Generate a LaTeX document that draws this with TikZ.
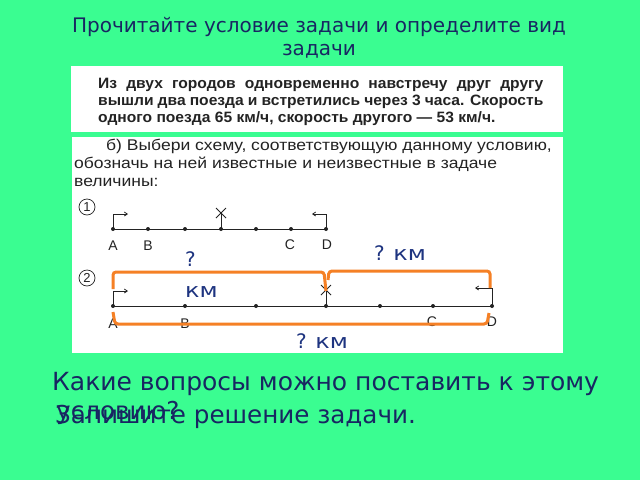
\documentclass[tikz,border=0pt]{standalone}
\usepackage{fontspec}
\setmainfont{DejaVu Sans}
\newfontfamily\scanfont{Liberation Sans}
\usetikzlibrary{arrows.meta,calc}
\definecolor{bg}{RGB}{58,253,145}
\definecolor{navy}{RGB}{24,38,98}
\definecolor{lbl}{RGB}{30,52,128}
\definecolor{org}{RGB}{245,128,37}
\definecolor{ink}{RGB}{35,35,35}
\newcommand{\km}{\scalebox{1.2}[1]{км}}
\newcommand{\wideb}[1]{\scalebox{1.04}[1]{#1}}
\newcommand{\justb}[1]{\scalebox{1.04}[1]{\makebox[428pt][s]{#1}}}
\newcommand{\wider}[1]{\scalebox{1.13}[1]{#1}}
\begin{document}
\begin{tikzpicture}[x=1pt,y=-1pt,
  title/.style={inner sep=0pt,text=navy,font=\fontsize{20}{24}\selectfont,anchor=base},
  bottomtxt/.style={inner sep=0pt,text=navy,font=\fontsize{24.6}{29}\selectfont,anchor=base west},
  scanb/.style={inner sep=0pt,text=ink,font=\scanfont\bfseries\fontsize{15}{17}\selectfont,anchor=base west},
  scanr/.style={inner sep=0pt,text=ink,font=\scanfont\fontsize{15.5}{17}\selectfont,anchor=base west},
  pt/.style={inner sep=0pt,text=ink,font=\scanfont\fontsize{14}{16}\selectfont,anchor=base},
  lbltxt/.style={inner sep=0pt,text=lbl,font=\fontsize{20}{31}\selectfont,anchor=base west},
  schemeline/.style={draw=ink,line width=0.9pt},
  tick/.style={draw=ink,line width=0.8pt,-{Straight Barb[length=3pt,width=4pt]}},
  bracket/.style={draw=org,line width=3pt,rounded corners=3pt},
  numcircle/.style={draw=ink,circle,line width=0.7pt,minimum size=16pt,inner sep=0pt,text=ink,font=\scanfont\fontsize{13}{13}\selectfont}
]
\fill[bg] (0,0) rectangle (640,480);
\useasboundingbox (0,0) rectangle (640,480);
\fill[white] (71,66) rectangle (563,132);
\fill[white] (72,137) rectangle (563,353);

% title
\node[title] (t1) at (319,32) {Прочитайте условие задачи и определите вид};
\node[title] (t2) at (319,55) {задачи};

% scanned task text
\node[scanb] (p1) at (98,88) {\justb{Из двух городов одновременно навстречу друг другу}};
\node[scanb] (p2) at (98,105) {\justb{вышли два поезда и встретились через 3 часа. Скорость}};
\node[scanb] (p3) at (98,122) {\wideb{одного поезда 65 км/ч, скорость другого — 53 км/ч.}};

\node[scanr] (q1) at (106,150) {\wider{б) Выбери схему, соответствующую данному условию,}};
\node[scanr] (q2) at (74,168) {\wider{обозначь на ней известные и неизвестные в задаче}};
\node[scanr] (q3) at (74,186) {\wider{величины:}};

% scheme 1
\node[numcircle] (n1) at (87,207) {1};
\foreach \n/\x in {a/113,b/148,p/185,m/221,q/256,c/291,d/326}
  \coordinate (s1\n) at (\x,229);
\draw[schemeline] (s1a) -- (s1d);
\foreach \n in {a,b,p,m,q,c,d} \fill[ink] (s1\n) circle (2);
\draw[tick] (s1a) -- ++(0,-15) -- ++(15,0);
\draw[tick] (s1d) -- ++(0,-15) -- ++(-14,0);
\coordinate (x1) at (221,213);
\draw[schemeline] (s1m) -- (x1);
\draw[schemeline] ($(x1)+(-5,-5)$) -- ($(x1)+(5,5)$) ($(x1)+(-5,5)$) -- ($(x1)+(5,-5)$);
\node[pt] (l1a) at (113,250) {A};
\node[pt] (l1b) at (148,250) {B};
\node[pt] (l1c) at (290,249) {C};
\node[pt] (l1d) at (327,249) {D};

% scheme 2
\node[numcircle] (n2) at (87,278) {2};
\foreach \n/\x in {a/113,b/185,p/256,m/326,q/380,c/433,d/492}
  \coordinate (s2\n) at (\x,306);
\draw[schemeline] (s2a) -- (s2d);
\foreach \n in {a,b,p,m,q,c,d} \fill[ink] (s2\n) circle (2);
\draw[tick] (s2a) -- ++(0,-15) -- ++(15,0);
\draw[tick] (s2d) -- ++(0,-18) -- ++(-17,0);
\coordinate (x2) at (326,290);
\draw[schemeline] (s2m) -- (x2);
\draw[schemeline] ($(x2)+(-5,-5)$) -- ($(x2)+(5,5)$) ($(x2)+(-5,5)$) -- ($(x2)+(5,-5)$);
\node[pt] (l2a) at (113,328) {A};
\node[pt] (l2b) at (185,328) {B};
\node[pt] (l2c) at (432,326) {C};
\node[pt] (l2d) at (492,326) {D};

% orange brackets
\draw[bracket] (113,289) -- (113,272) -- (324,272) -- (326,291);
\draw[bracket] (328,280) -- (329,271) -- (490,271) -- (490,288);
\draw[bracket] (113,312) -- (115,324) -- (487,324) -- (489,313);

% labels
\node[lbltxt] (k1) at (374,260) {? \km};
\node[lbltxt,align=left] (k2) at (185,297) {?\\\km};
\node[lbltxt] (k3) at (296,348) {? \km};

% bottom text
\node[bottomtxt,font=\fontsize{25}{29}\selectfont] (b1) at (52,390) {Какие вопросы можно поставить к этому};
\node[bottomtxt] (b2) at (56,419) {условию?};
\node[bottomtxt] (b3) at (55,423) {Запишите решение задачи.};
\end{tikzpicture}
\end{document}
